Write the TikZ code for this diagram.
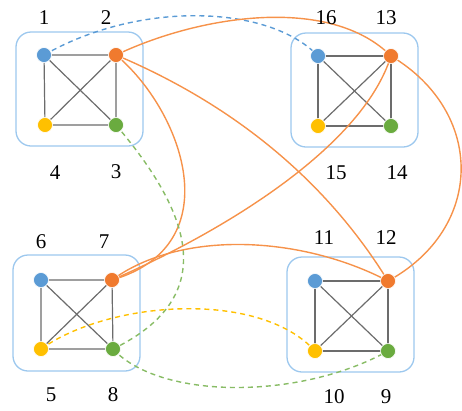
\documentclass[tikz,border=0pt]{standalone}
\usepackage{fontspec}
\setmainfont{Liberation Serif}
\begin{document}
\begin{tikzpicture}[x=1pt,y=-1pt,
  vtx/.style={circle,inner sep=0pt,minimum size=15pt,draw=white,line width=0.6pt},
  vb/.style={vtx,fill=nblue},
  vo/.style={vtx,fill=norange},
  vy/.style={vtx,fill=nyellow},
  vg/.style={vtx,fill=ngreen},
  grp/.style={draw=boxblue,line width=1.3pt,rounded corners=15pt},
  inner/.style={draw=gray!85!black,line width=1.2pt},
  lab/.style={font=\fontsize{21}{24}\selectfont,inner sep=0pt},
  oc/.style={draw=orangeline,line width=1.4pt},
  dsh/.style={line width=1.4pt,dash pattern=on 5pt off 4pt},
]
\definecolor{nblue}{HTML}{5B9BD5}
\definecolor{norange}{HTML}{F07A2E}
\definecolor{nyellow}{HTML}{FFC000}
\definecolor{ngreen}{HTML}{6AAB3F}
\definecolor{boxblue}{HTML}{9DC8EE}
\definecolor{orangeline}{HTML}{F6924A}
\useasboundingbox (0,0) rectangle (462,410);

% boxes
\draw[grp] (16,32) rectangle (143,146);
\draw[grp] (291,33) rectangle (418,147);
\draw[grp] (13,255) rectangle (140,371);
\draw[grp] (287,257) rectangle (414,372);

% vertex coordinates
\coordinate (p1) at (44,55);   \coordinate (p2) at (116,55);
\coordinate (p3) at (116,125); \coordinate (p4) at (45,125);
\coordinate (p16) at (318,56); \coordinate (p13) at (391,56);
\coordinate (p14) at (391,126);\coordinate (p15) at (318,126);
\coordinate (p6) at (41,280);  \coordinate (p7) at (112,280);
\coordinate (p8) at (113,349); \coordinate (p5) at (41,349);
\coordinate (p11) at (315,281);\coordinate (p12) at (388,281);
\coordinate (p9) at (388,351); \coordinate (p10) at (315,351);

% inner complete graphs
\foreach \a/\b/\c/\d in {p1/p2/p3/p4, p16/p13/p14/p15, p6/p7/p8/p5, p11/p12/p9/p10}{
  \draw[inner] (\a) -- (\b) -- (\c) -- (\d) -- cycle;
  \draw[inner] (\a) -- (\c);
  \draw[inner] (\b) -- (\d);
}

% connectors
\draw[dsh,draw=nblue] (p1) .. controls (140,0) and (270,5) .. (p16);
\draw[oc] (p2) .. controls (200,15) and (330,-5) .. (p13);
\draw[oc] (p2) .. controls (270,120) and (348,216) .. (p12);
\draw[oc] (p2) .. controls (182,110) and (232,245) .. (p7);
\draw[dsh,draw=ngreen!80] (p3) .. controls (190,212) and (222,296) .. (p8);
\draw[oc] (p7) .. controls (222,232) and (362,148) .. (p13);
\draw[oc] (p7) .. controls (180,230) and (300,235) .. (p12);
\draw[oc] (p13) .. controls (485,112) and (485,228) .. (p12);
\draw[dsh,draw=nyellow] (p5) .. controls (110,300) and (260,290) .. (p10);
\draw[dsh,draw=ngreen!80] (p8) .. controls (160,400) and (300,400) .. (p9);

% vertices
\node[vb] (n1) at (p1) {};  \node[vo] (n2) at (p2) {};
\node[vg] (n3) at (p3) {};  \node[vy] (n4) at (p4) {};
\node[vb] (n16) at (p16) {};\node[vo] (n13) at (p13) {};
\node[vg] (n14) at (p14) {};\node[vy] (n15) at (p15) {};
\node[vb] (n6) at (p6) {};  \node[vo] (n7) at (p7) {};
\node[vg] (n8) at (p8) {};  \node[vy] (n5) at (p5) {};
\node[vb] (n11) at (p11) {};\node[vo] (n12) at (p12) {};
\node[vg] (n9) at (p9) {};  \node[vy] (n10) at (p10) {};

% labels
\node[lab] (l1) at (44,18) {1};
\node[lab] (l2) at (106,18) {2};
\node[lab] (l4) at (55,173) {4};
\node[lab] (l3) at (116,172) {3};
\node[lab] (l16) at (326,18) {16};
\node[lab] (l13) at (386,18) {13};
\node[lab] (l15) at (336,173) {15};
\node[lab] (l14) at (397,173) {14};
\node[lab] (l6) at (41,242) {6};
\node[lab] (l7) at (104,242) {7};
\node[lab] (l5) at (51,395) {5};
\node[lab] (l8) at (113,395) {8};
\node[lab] (l11) at (324,238) {11};
\node[lab] (l12) at (386,238) {12};
\node[lab] (l10) at (334,397) {10};
\node[lab] (l9) at (386,397) {9};
\end{tikzpicture}
\end{document}
